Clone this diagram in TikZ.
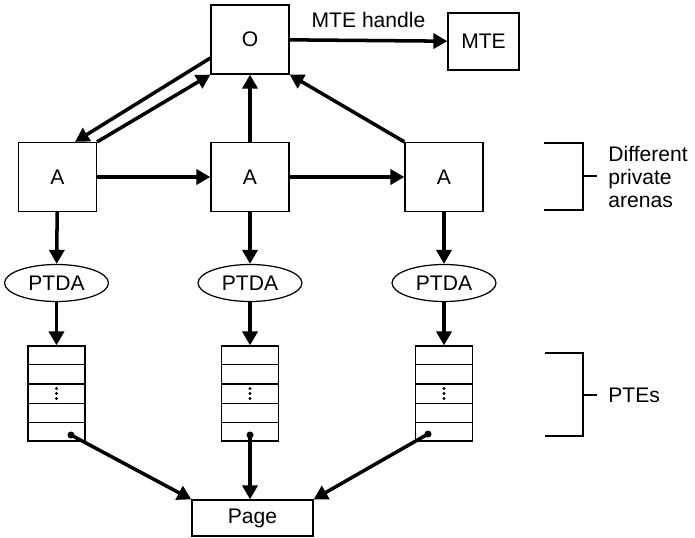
\documentclass[tikz,border=0pt]{standalone}
\usepackage{fontspec}
\setmainfont{Liberation Sans}
\usetikzlibrary{positioning,arrows.meta,shapes.geometric,calc}
\tikzset{
  box/.style={draw, line width=0.7pt, minimum width=1.56cm, minimum height=1.38cm, inner sep=0pt},
  ptda/.style={ellipse, draw, line width=0.7pt, minimum width=2.08cm, minimum height=0.74cm, inner sep=0pt},
  ptes/.style={draw, line width=0.7pt, minimum width=1.14cm, minimum height=1.9cm, inner sep=0pt},
  arr/.style={-{Triangle[length=0.28cm, width=0.3cm]}, line width=2pt},
  brk/.style={line width=0.7pt},
  dot/.style={circle, fill, inner sep=0pt, minimum size=0.14cm},
}

\begin{document}
\begin{tikzpicture}[x=0.02cm, y=-0.02cm, font=\fontsize{12}{13}\selectfont]
  \useasboundingbox (0,0) rectangle (695,537);
  % top row
  \node[box] (o) at (250,39.5) {O};
  \node[box, minimum width=1.42cm, minimum height=1.14cm] (mte) at (483.5,41.5) {MTE};
  \draw[arr] (o) -- node[above=3pt] {MTE handle} (mte);
  % private arenas
  \node[box] (a1) at (57.5,177) {A};
  \node[box] (a2) at (250,177) {A};
  \node[box] (a3) at (444,177) {A};
  \draw[arr] ([yshift=-0.37cm]o.west) -- ([xshift=0.35cm]a1.north);
  \draw[arr] (a1.north east) -- (o.south west);
  \draw[arr] (a2) -- (o);
  \draw[arr] (a3.north west) -- (o.south east);
  \draw[arr] (a1) -- (a2);
  \draw[arr] (a2) -- (a3);
  % PTDA and PTE stacks
  \foreach \i/\x in {1/56.5,2/250,3/444} {
    \node[ptda] (p\i) at (\x,283) {PTDA};
    \node[ptes] (s\i) at (\x,393.5) {};
    \foreach \k in {1,...,4}
      \draw[brk] ($(s\i.north west)!\k/5!(s\i.south west)$) -- ($(s\i.north east)!\k/5!(s\i.south east)$);
    \foreach \d in {-5,0,5}
      \fill ($(s\i)+(0,\d)$) circle (0.032cm);
    \draw[arr] (a\i) -- (p\i);
    \draw[arr] (p\i) -- (s\i);
  }
  % page
  \node[box, minimum width=2.42cm, minimum height=0.72cm] (pg) at (252.5,518) {Page};
  \node[dot] (b1) at (71,435) {};
  \node[dot] (b2) at (250,435) {};
  \node[dot] (b3) at (428,434) {};
  \draw[arr] (b1.center) -- (pg.north west);
  \draw[arr] (b2.center) -- (b2 |- pg.north);
  \draw[arr] (b3.center) -- (pg.north east);
  % brackets
  \draw[brk] (544,143) -- (583,143) -- (583,210) -- (544,210) (583,176) -- (597,176);
  \node[anchor=west, align=left, inner sep=0pt] (arenas) at (608,177) {Different\\private\\arenas};
  \draw[brk] (545,353) -- (583,353) -- (583,436) -- (545,436) (583,395) -- (597,395);
  \node[anchor=west, inner sep=0pt] (ptelbl) at (608,395) {PTEs};
\end{tikzpicture}
\end{document}
